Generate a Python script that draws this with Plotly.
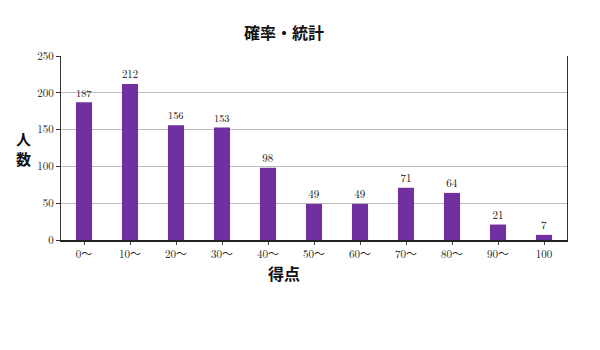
import plotly.graph_objects as go

# 得点分布（10点刻み）
categories = ["0〜", "10〜", "20〜", "30〜", "40〜", "50〜", "60〜", "70〜", "80〜", "90〜", "100"]
counts = [187, 212, 156, 153, 98, 49, 49, 71, 64, 21, 7]
y_ticks = [0, 50, 100, 150, 200, 250]

serif = "Latin Modern Roman, DejaVu Serif, Liberation Serif, Noto Sans CJK JP"
cjk = "Noto Sans CJK JP"
title_x = (284 - 61) / 506  # 見出しの中心（プロット領域基準）

fig = go.Figure(
    go.Bar(
        x=categories,
        y=counts,
        width=0.35,
        marker=dict(color="#7030A0", line=dict(width=0)),
        text=[str(v) for v in counts],
        textposition="outside",
        textfont=dict(family=serif, size=11, color="#111111"),
        cliponaxis=False,
    )
)

fig.update_layout(
    width=600,
    height=350,
    margin=dict(l=61, r=33, t=56, b=110),
    paper_bgcolor="white",
    plot_bgcolor="white",
    showlegend=False,
    xaxis=dict(
        type="category",
        range=[-0.5, 10.5],
        showline=True,
        linecolor="#222222",
        linewidth=1.5,
        ticks="outside",
        ticklen=3,
        tickcolor="#444444",
        tickfont=dict(family=serif, size=11, color="#222222"),
        showgrid=False,
    ),
    yaxis=dict(
        range=[0, 250],
        tickvals=y_ticks,
        showline=True,
        mirror=True,
        linecolor="#333333",
        linewidth=1,
        ticks="outside",
        ticklen=4,
        tickcolor="#333333",
        tickfont=dict(family=serif, size=11, color="#222222"),
        showgrid=True,
        gridcolor="#bdbdbd",
        gridwidth=1,
        zeroline=False,
    ),
    annotations=[
        dict(
            text="<b>確率・統計</b>",
            xref="paper", yref="paper",
            x=title_x, y=1 + 24 / 184,
            xanchor="center", yanchor="middle",
            showarrow=False,
            font=dict(family=cjk, size=16, color="#111111"),
        ),
        dict(
            text="<b>得点</b>",
            xref="paper", yref="paper",
            x=title_x, y=-33 / 184,
            xanchor="center", yanchor="middle",
            showarrow=False,
            font=dict(family=cjk, size=16, color="#111111"),
        ),
        dict(
            text="<b>人<br>数</b>",
            xref="paper", yref="paper",
            x=-38 / 506, y=0.5,
            xanchor="center", yanchor="middle",
            showarrow=False,
            font=dict(family=cjk, size=15, color="#111111"),
        ),
    ],
)

fig.write_html("out.html")
